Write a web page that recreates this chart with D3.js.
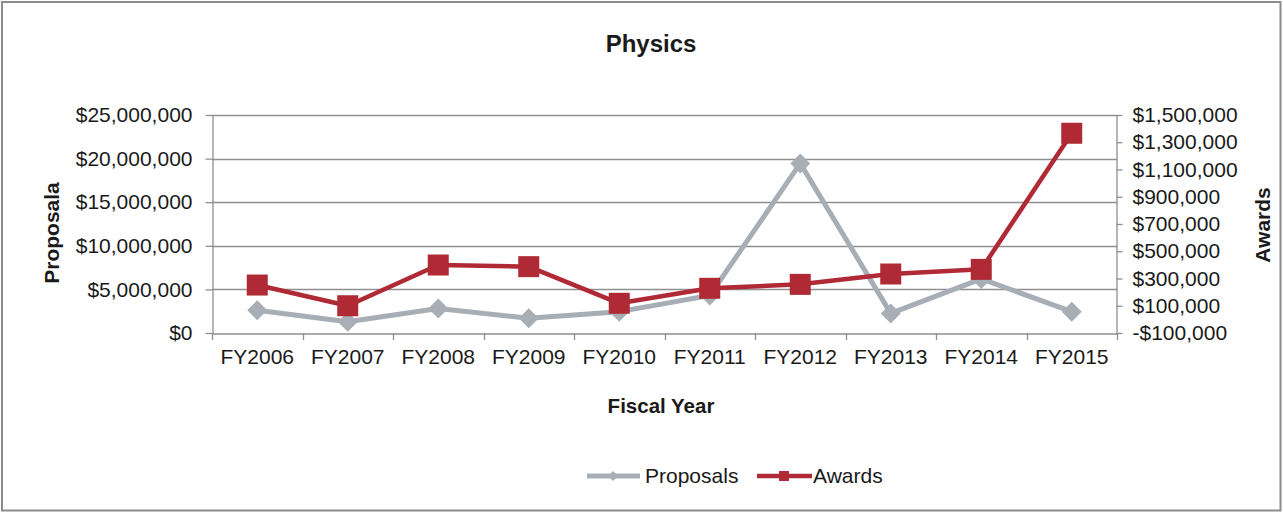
<!DOCTYPE html>
<html><head><meta charset="utf-8">
<script src="https://cdn.jsdelivr.net/npm/d3@7"></script>
<style>body{margin:0;background:#fff}svg{display:block}text{font-family:Arial,"Liberation Sans",sans-serif;fill:#1a1a1a}</style>
</head><body>
<script>
const years = ["FY2006","FY2007","FY2008","FY2009","FY2010","FY2011","FY2012","FY2013","FY2014","FY2015"];
const proposals = [2600000,1300000,2800000,1700000,2450000,4300000,19450000,2250000,6200000,2450000];
const awards = [252000,100000,399000,387000,118000,228000,257000,333000,367000,1366000];
const leftTicks = [0,5000000,10000000,15000000,20000000,25000000];
const rightTicks = [-100000,100000,300000,500000,700000,900000,1100000,1300000,1500000];

const W=1283,H=513;
const m={l:212,r:1117,t:115,b:333};
const gray="#a7aeb5", red="#af2a35", axisC="#8f8f8f";
const svg=d3.select("body").append("svg").attr("width",W).attr("height",H);
svg.append("rect").attr("x",2).attr("y",2).attr("width",W-4.5).attr("height",H-4.5).attr("fill","#fff").attr("stroke","#8c8c8c").attr("stroke-width",2);

const x=d3.scaleBand().domain(years).range([m.l,m.r]);
const yL=d3.scaleLinear().domain([0,25000000]).range([m.b,m.t]);
const yR=d3.scaleLinear().domain([-100000,1500000]).range([m.b,m.t]);
const fmt=v=>(v<0?"-$":"$")+d3.format(",")(Math.abs(v));

// gridlines
svg.append("g").selectAll("line").data(leftTicks.slice(1)).join("line")
 .attr("x1",m.l).attr("x2",m.r).attr("y1",d=>Math.round(yL(d))+0.5).attr("y2",d=>Math.round(yL(d))+0.5)
 .attr("stroke",axisC).attr("stroke-width",1.3);

// left axis
const gl=svg.append("g").attr("transform",`translate(${m.l+0.5},0)`)
 .call(d3.axisLeft(yL).tickValues(leftTicks).tickFormat(fmt).tickSize(7).tickSizeOuter(0).tickPadding(13));
// right axis
const gr=svg.append("g").attr("transform",`translate(${m.r-0.5},0)`)
 .call(d3.axisRight(yR).tickValues(rightTicks).tickFormat(fmt).tickSize(6).tickSizeOuter(0).tickPadding(10));
// bottom axis
const gb=svg.append("g").attr("transform",`translate(0,${Math.round(m.b)+0.5})`)
 .call(d3.axisBottom(x).tickSize(0).tickPadding(16));
// category tick marks at band edges
svg.append("g").selectAll("line").data(years.concat(["__end"])).join("line")
 .attr("x1",(d,i)=>Math.round(m.l+i*x.step())+0.5).attr("x2",(d,i)=>Math.round(m.l+i*x.step())+0.5)
 .attr("y1",m.b).attr("y2",m.b+7).attr("stroke",axisC).attr("stroke-width",1.3);
[gl,gr,gb].forEach(g=>{
  g.selectAll("path,line").attr("stroke",axisC).attr("stroke-width",1.3);
  g.selectAll("text").style("font-size","21px").style("font-family","Arial, 'Liberation Sans', sans-serif").attr("fill","#1a1a1a");
});

// titles
svg.append("text").attr("x",651).attr("y",52).attr("text-anchor","middle").style("font-size","24px").style("font-weight","bold").text("Physics");
svg.append("text").attr("x",661).attr("y",413).attr("text-anchor","middle").style("font-size","20.5px").style("font-weight","bold").text("Fiscal Year");
svg.append("text").attr("transform","translate(59,233) rotate(-90)").attr("text-anchor","middle").style("font-size","21px").style("font-weight","bold").text("Proposala");
svg.append("text").attr("transform","translate(1270,225) rotate(-90)").attr("text-anchor","middle").style("font-size","21px").style("font-weight","bold").text("Awards");

const cx=d=>x(d)+x.bandwidth()/2;
// proposals line
svg.append("path").datum(years.map((d,i)=>[cx(d),yL(proposals[i])]))
 .attr("d",d3.line()).attr("fill","none").attr("stroke",gray).attr("stroke-width",5).attr("stroke-linejoin","round");
svg.append("g").selectAll("path").data(years).join("path")
 .attr("d",d3.symbol(d3.symbolSquare,200)())
 .attr("transform",(d,i)=>`translate(${cx(d)},${yL(proposals[i])}) rotate(45)`)
 .attr("fill",gray);
// awards line
svg.append("path").datum(years.map((d,i)=>[cx(d),yR(awards[i])]))
 .attr("d",d3.line()).attr("fill","none").attr("stroke",red).attr("stroke-width",4.5).attr("stroke-linejoin","round");
svg.append("g").selectAll("rect").data(years).join("rect")
 .attr("x",d=>cx(d)-10.5).attr("y",(d,i)=>yR(awards[i])-10.5).attr("width",21).attr("height",21).attr("fill",red);

// legend
const lg=svg.append("g");
lg.append("line").attr("x1",587).attr("x2",640).attr("y1",476).attr("y2",476).attr("stroke",gray).attr("stroke-width",5);
lg.append("path").attr("d",d3.symbol(d3.symbolSquare,50)()).attr("transform","translate(613,476) rotate(45)").attr("fill",gray);
lg.append("text").attr("x",645).attr("y",483).style("font-size","21px").text("Proposals");
lg.append("line").attr("x1",757).attr("x2",812).attr("y1",476).attr("y2",476).attr("stroke",red).attr("stroke-width",4.5);
lg.append("rect").attr("x",779).attr("y",471).attr("width",10).attr("height",10).attr("fill",red);
lg.append("text").attr("x",813).attr("y",483).style("font-size","21px").text("Awards");
</script>
</body></html>
